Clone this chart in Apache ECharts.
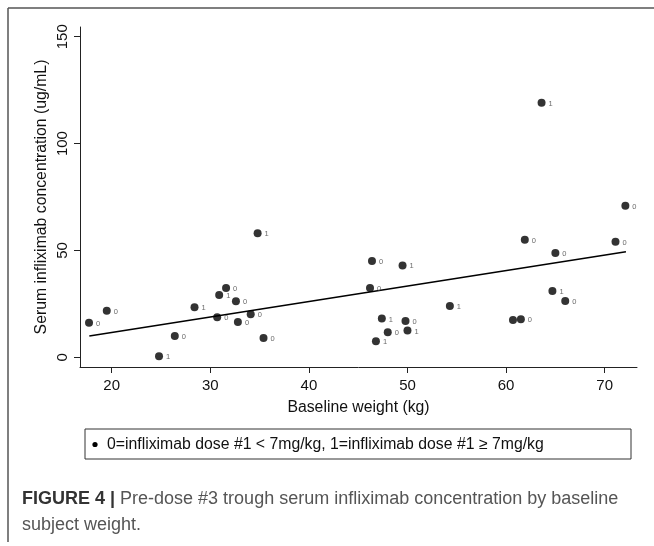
<!DOCTYPE html>
<html>
<head>
<meta charset="utf-8">
<script src="https://cdn.jsdelivr.net/npm/echarts@6/dist/echarts.min.js"></script>
<style>
html,body{margin:0;padding:0;background:#fff;}
#chart{width:654px;height:546px;}
</style>
</head>
<body>
<div id="chart"></div>
<script>
// Baseline weight (kg)
var weights = [17.7, 19.5, 24.8, 26.4, 28.4, 30.7, 30.9, 31.6, 32.6, 32.8, 34.1, 34.8, 35.4,
               46.4, 49.5, 46.2, 54.3, 47.4, 49.8, 48.0, 50.0, 46.8,
               63.6, 72.1, 61.9, 71.1, 65.0, 64.7, 66.0, 60.7, 61.5];
// Serum infliximab concentration (ug/mL)
var concentrations = [16.2, 21.8, 0.5, 10.0, 23.4, 18.7, 29.2, 32.4, 26.2, 16.5, 20.1, 58.0, 9.0,
                      45.1, 43.0, 32.4, 24.0, 18.1, 17.0, 11.7, 12.5, 7.5,
                      119.1, 70.9, 55.0, 54.1, 48.8, 31.0, 26.3, 17.5, 17.8];
// marker labels: 0 = dose #1 < 7mg/kg, 1 = dose #1 >= 7mg/kg ("" where hidden behind another marker)
var doseLabels = ["0","0","1","0","1","0","1","0","0","0","0","1","0",
                  "0","1","0","1","1","0","0","1","1",
                  "1","0","0","0","0","1","0","","0"];
// fitted line end points
var fitX = [17.73, 72.16];
var fitY = [10.0, 49.4];
var xTicks = [20, 30, 40, 50, 60, 70];
var yTicks = [0, 50, 100, 150];

var xTitle = "Baseline weight (kg)";
var yTitle = "Serum infliximab concentration (ug/mL)";
var legendText = "0=infliximab dose #1 < 7mg/kg, 1=infliximab dose #1 \u2265 7mg/kg";
var captionBold = "FIGURE 4 |";
var captionLine1 = " Pre-dose #3 trough serum infliximab concentration by baseline";
var captionLine2 = "subject weight.";

var pts = weights.map(function (w, i) { return [w, concentrations[i]]; });
var fit = fitX.map(function (x, i) { return [x, fitY[i]]; });

var FONT = "'Liberation Sans', Arial, Helvetica, sans-serif";
var chart = echarts.init(document.getElementById('chart'), null, {renderer: 'canvas'});
chart.setOption({
  animation: false,
  backgroundColor: '#ffffff',
  textStyle: {fontFamily: FONT},
  grid: {left: 80, right: 17, top: 27, bottom: 179, containLabel: false},
  xAxis: {
    type: 'value', min: 16.785, max: 73.28,
    name: xTitle, nameLocation: 'middle', nameGap: 33, nameMoveOverlap: false,
    nameTextStyle: {fontSize: 15.8, color: '#111', fontFamily: FONT},
    axisLine: {show: true, onZero: false, lineStyle: {color: '#222', width: 1}},
    axisTick: {show: true, length: 6, customValues: xTicks, lineStyle: {color: '#222'}},
    axisLabel: {customValues: xTicks, fontSize: 15, color: '#111', margin: 11, fontFamily: FONT},
    splitLine: {show: false}
  },
  yAxis: {
    type: 'value', min: -4.54, max: 154.56,
    name: yTitle, nameLocation: 'middle', nameGap: 30, nameRotate: 90, nameMoveOverlap: false,
    nameTextStyle: {fontSize: 15.8, color: '#111', fontFamily: FONT},
    axisLine: {show: true, onZero: false, lineStyle: {color: '#222', width: 1}},
    axisTick: {show: true, length: 6, customValues: yTicks, lineStyle: {color: '#222'}},
    axisLabel: {customValues: yTicks, rotate: 90, fontSize: 15, color: '#111', margin: 10, fontFamily: FONT},
    splitLine: {show: false}
  },
  legend: {show: false},
  series: [
    {
      type: 'line', data: fit, symbol: 'none', silent: true,
      lineStyle: {color: '#000', width: 1.6}, z: 1
    },
    {
      type: 'scatter', name: legendText, data: pts, symbol: 'circle', symbolSize: 8,
      itemStyle: {color: '#000'}, z: 2,
      label: {
        show: true, position: 'right', distance: 3, offset: [0, 1],
        fontSize: 7.5, color: '#444', fontFamily: FONT,
        formatter: function (p) { return doseLabels[p.dataIndex]; }
      }
    }
  ],
  graphic: [
    {type: 'line', shape: {x1: 8, y1: 8, x2: 654, y2: 8}, style: {stroke: '#555', lineWidth: 1.5}},
    {type: 'line', shape: {x1: 8, y1: 8, x2: 8, y2: 542}, style: {stroke: '#555', lineWidth: 1.5}},
    {type: 'rect', shape: {x: 85, y: 429, width: 546, height: 30}, style: {fill: 'none', stroke: '#333', lineWidth: 1}},
    {type: 'circle', shape: {cx: 95, cy: 444.5, r: 2.6}, style: {fill: '#000'}},
    {type: 'text', x: 107, y: 444.5, style: {text: legendText, font: '15.8px ' + FONT, fill: '#111', verticalAlign: 'middle'}},
    {type: 'text', x: 22, y: 499, style: {
      text: '{b|' + captionBold + '}{r|' + captionLine1 + '}',
      verticalAlign: 'middle',
      rich: {
        b: {font: 'bold 18px ' + FONT, fill: '#333'},
        r: {font: '18px ' + FONT, fill: '#555'}
      }
    }},
    {type: 'text', x: 22, y: 525, style: {text: captionLine2, font: '18px ' + FONT, fill: '#555', verticalAlign: 'middle'}}
  ]
});
</script>
</body>
</html>
